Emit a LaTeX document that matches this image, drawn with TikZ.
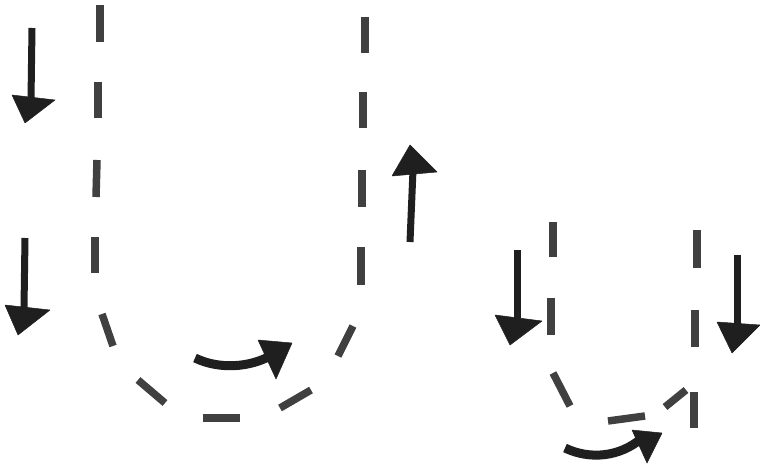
\documentclass[tikz,border=0pt]{standalone}
\begin{document}
\begin{tikzpicture}[x=1pt,y=-1pt,
  dashseg/.style={line width=7.5pt,draw=black!75},
  shaft/.style={line width=7pt,draw=black!88},
  head/.style={fill=black!88,draw=black!88,line width=0.5pt,line join=round}]
\useasboundingbox[fill=white] (0,0) rectangle (760,476);
% ---- big U: left column
\draw[dashseg] (100,5) -- (100,42);
\draw[dashseg] (98,82) -- (98,118);
\draw[dashseg] (97,160) -- (96,197);
\draw[dashseg] (95,237) -- (95,273);
% ---- big U: bottom curve
\draw[dashseg] (102,314) -- (113,346);
\draw[dashseg] (138,380) -- (165,403);
\draw[dashseg] (203,418) -- (240,418);
\draw[dashseg] (280,408) -- (311,390);
\draw[dashseg] (353,326) -- (338,356);
% ---- big U: right column
\draw[dashseg] (365,17) -- (365,53);
\draw[dashseg] (363,92) -- (363,128);
\draw[dashseg] (362,170) -- (362,207);
\draw[dashseg] (361,247) -- (361,285);
% ---- big U arrows
\coordinate (a1s) at (32,28); \coordinate (a1e) at (31,100);
\draw[shaft] (a1s) -- (a1e);
\fill[head] (12,95) -- (55,100) -- (25,123) -- cycle;
\coordinate (a2s) at (25,238); \coordinate (a2e) at (24,308);
\draw[shaft] (a2s) -- (a2e);
\fill[head] (5,305) -- (50,310) -- (18,335) -- cycle;
\coordinate (a3s) at (410,242); \coordinate (a3e) at (413,170);
\draw[shaft] (a3s) -- (a3e);
\fill[head] (392,176) -- (437,172) -- (410,145) -- cycle;
\coordinate (c1s) at (195,358); \coordinate (c1e) at (270,356);
\draw[line width=9pt,draw=black!88] (c1s) .. controls (220,370) and (250,367) .. (c1e);
\fill[head] (258,340) -- (292,343) -- (276,379) -- cycle;
% ---- small U: left column
\draw[dashseg] (553,222) -- (553,257);
\draw[dashseg] (551,298) -- (551,335);
% ---- small U: bottom
\draw[dashseg] (553,373) -- (570,406);
\draw[dashseg] (608,421) -- (645,416);
\draw[dashseg] (665,407) -- (686,390);
\draw[dashseg] (694,392) -- (694,428);
% ---- small U: right column
\draw[dashseg] (697,230) -- (697,268);
\draw[dashseg] (695,310) -- (695,347);
% ---- small U arrows
\coordinate (b1s) at (517,250); \coordinate (b1e) at (517,318);
\draw[shaft] (b1s) -- (b1e);
\fill[head] (495,315) -- (542,321) -- (510,345) -- cycle;
\coordinate (b2s) at (737,255); \coordinate (b2e) at (737,324);
\draw[shaft] (b2s) -- (b2e);
\fill[head] (717,322) -- (760,325) -- (732,353) -- cycle;
\coordinate (c2s) at (565,448); \coordinate (c2e) at (642,438);
\draw[line width=9pt,draw=black!88] (c2s) .. controls (590,460) and (620,457) .. (c2e);
\fill[head] (632,430) -- (662,433) -- (647,463) -- cycle;
\end{tikzpicture}
\end{document}
